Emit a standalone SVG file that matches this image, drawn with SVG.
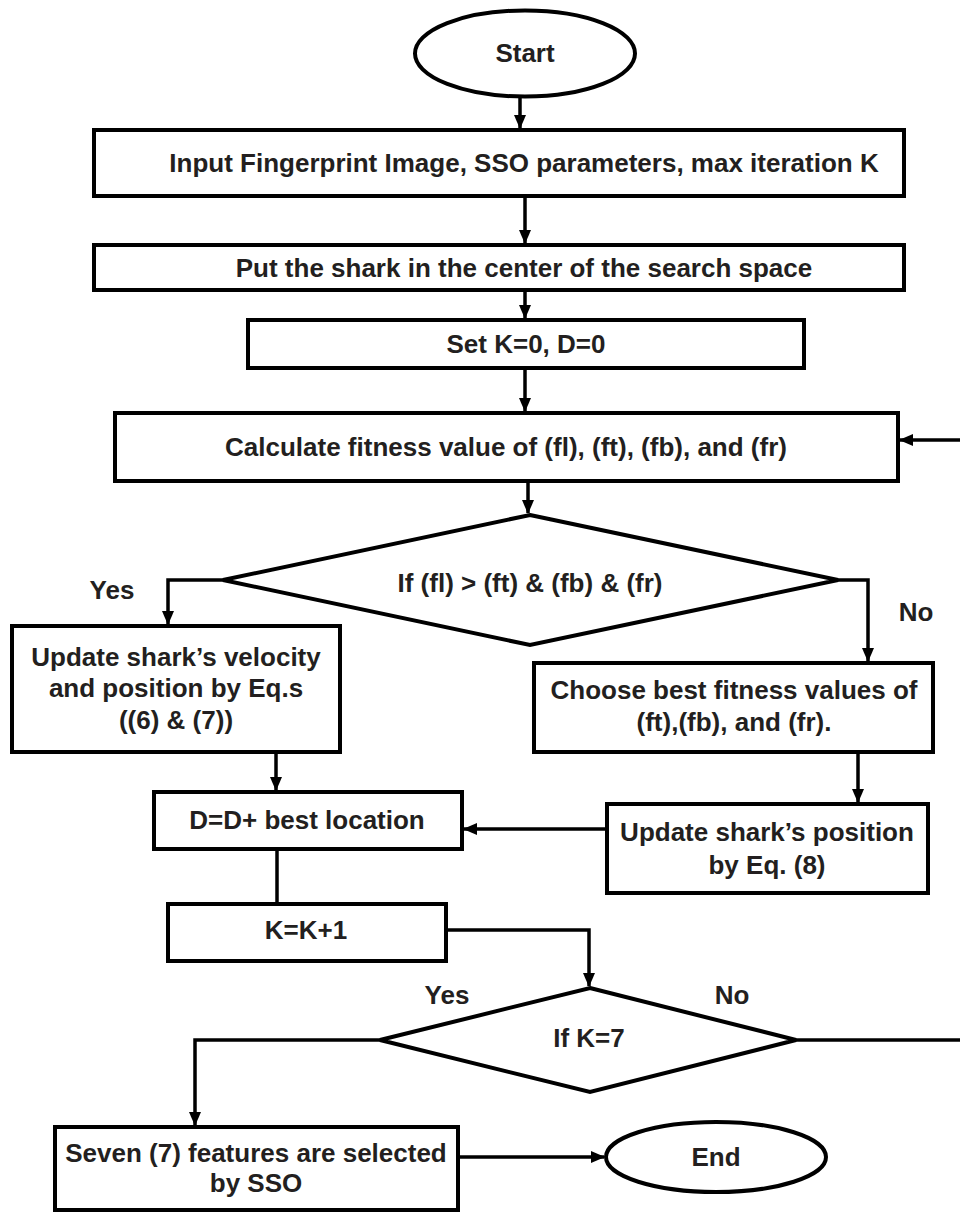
<svg xmlns="http://www.w3.org/2000/svg" width="960" height="1212" viewBox="0 0 960 1212">
<style>
  .box{fill:#fff;stroke:#000;stroke-width:4}
  .t{font-family:"Liberation Sans",Arial,sans-serif;font-weight:bold;font-size:26px;fill:#231f20;text-anchor:middle}
  .c{fill:none;stroke:#000;stroke-width:3.5}
</style>
<defs>
  <marker id="ah" markerUnits="userSpaceOnUse" markerWidth="14" markerHeight="12" refX="13" refY="6" orient="auto">
    <path d="M0,0 L14,6 L0,12 Z" fill="#000"/>
  </marker>
</defs>
<rect width="960" height="1212" fill="#fff"/>

<g id="connectors">
  <line class="c" x1="520" y1="97" x2="520" y2="128" marker-end="url(#ah)"/>
  <line class="c" x1="525" y1="196" x2="525" y2="243" marker-end="url(#ah)"/>
  <line class="c" x1="525" y1="290" x2="525" y2="318" marker-end="url(#ah)"/>
  <line class="c" x1="525" y1="368" x2="525" y2="411" marker-end="url(#ah)"/>
  <line class="c" x1="960" y1="440" x2="900" y2="440" marker-end="url(#ah)"/>
  <line class="c" x1="528" y1="481" x2="528" y2="513" marker-end="url(#ah)"/>
  <polyline class="c" points="223,580 168,580 168,624" marker-end="url(#ah)"/>
  <polyline class="c" points="838,580 868,580 868,661" marker-end="url(#ah)"/>
  <line class="c" x1="858" y1="752" x2="858" y2="802" marker-end="url(#ah)"/>
  <line class="c" x1="607" y1="829" x2="464" y2="829" marker-end="url(#ah)"/>
  <line class="c" x1="276" y1="752" x2="276" y2="790" marker-end="url(#ah)"/>
  <line class="c" x1="277" y1="849" x2="277" y2="904"/>
  <polyline class="c" points="446,930 589,930 589,986" marker-end="url(#ah)"/>
  <polyline class="c" points="380,1040 195,1040 195,1125" marker-end="url(#ah)"/>
  <line class="c" x1="796" y1="1040" x2="960" y2="1040"/>
  <line class="c" x1="458" y1="1157" x2="604" y2="1157" marker-end="url(#ah)"/>
</g>

<g id="start">
  <ellipse class="box" cx="525" cy="53.5" rx="110" ry="43"/>
  <text class="t" x="525" y="62">Start</text>
</g>
<g id="input">
  <rect class="box" x="94" y="130" width="810" height="66"/>
  <text class="t" x="524" y="172">Input Fingerprint Image, SSO parameters, max iteration K</text>
</g>
<g id="put">
  <rect class="box" x="94" y="245" width="810" height="45"/>
  <text class="t" x="524" y="277">Put the shark in the center of the search space</text>
</g>
<g id="set">
  <rect class="box" x="248" y="320" width="556" height="48"/>
  <text class="t" x="526" y="353">Set K=0, D=0</text>
</g>
<g id="calc">
  <rect class="box" x="115" y="413" width="783" height="68"/>
  <text class="t" x="506" y="456">Calculate fitness value of (fl), (ft), (fb), and (fr)</text>
</g>
<g id="cond1">
  <polygon class="box" points="530,515 838,580 530,645 223,580"/>
  <text class="t" x="530" y="592">If (fl) &gt; (ft) &amp; (fb) &amp; (fr)</text>
</g>
<g id="yes1"><text class="t" x="112" y="599">Yes</text></g>
<g id="no1"><text class="t" x="916" y="621">No</text></g>
<g id="velocity">
  <rect class="box" x="12" y="626" width="328" height="126"/>
  <text class="t" x="176" y="666">Update shark’s velocity</text>
  <text class="t" x="176" y="697">and position by Eq.s</text>
  <text class="t" x="176" y="729">((6) &amp; (7))</text>
</g>
<g id="choose">
  <rect class="box" x="534" y="663" width="399" height="89"/>
  <text class="t" x="734" y="699">Choose best fitness values of</text>
  <text class="t" x="734" y="731">(ft),(fb), and (fr).</text>
</g>
<g id="updatepos">
  <rect class="box" x="607" y="804" width="321" height="89"/>
  <text class="t" x="767" y="841">Update shark’s position</text>
  <text class="t" x="767" y="874">by Eq. (8)</text>
</g>
<g id="dbox">
  <rect class="box" x="154" y="792" width="308" height="57"/>
  <text class="t" x="307" y="829">D=D+ best location</text>
</g>
<g id="kbox">
  <rect class="box" x="168" y="904" width="278" height="57"/>
  <text class="t" x="306" y="939">K=K+1</text>
</g>
<g id="cond2">
  <polygon class="box" points="590,988 796,1040 590,1092 380,1040"/>
  <text class="t" x="589" y="1047">If K=7</text>
</g>
<g id="yes2"><text class="t" x="447" y="1004">Yes</text></g>
<g id="no2"><text class="t" x="732" y="1004">No</text></g>
<g id="seven">
  <rect class="box" x="55" y="1127" width="403" height="83"/>
  <text class="t" x="256" y="1162">Seven (7) features are selected</text>
  <text class="t" x="256" y="1192">by SSO</text>
</g>
<g id="end">
  <ellipse class="box" cx="716" cy="1157" rx="110" ry="35"/>
  <text class="t" x="716" y="1166">End</text>
</g>
</svg>
